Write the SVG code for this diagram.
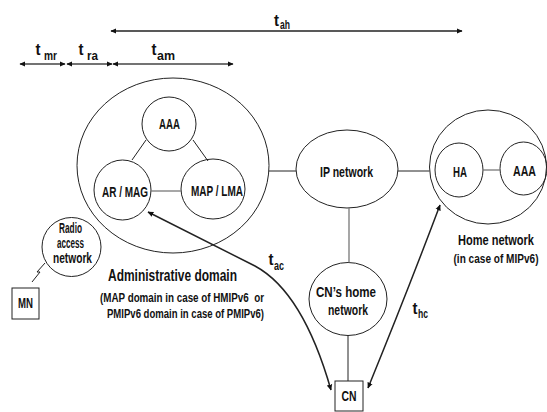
<svg xmlns="http://www.w3.org/2000/svg" width="547" height="412" viewBox="0 0 547 412">
<defs>
<style>
text{font-family:'Liberation Sans Narrow','Arial Narrow','Liberation Sans',Arial,sans-serif;font-weight:bold;fill:#111;text-anchor:middle}
.n{fill:none;stroke:#222;stroke-width:1}
.b{fill:#fff}
.ln{stroke:#222;stroke-width:1;fill:none}
.lg{stroke:#777;stroke-width:1.3;fill:none}
.ar{stroke:#222;stroke-width:1.5;fill:none;marker-start:url(#ah);marker-end:url(#ah)}
.ar2{stroke:#444;stroke-width:1.6;fill:none;marker-start:url(#ah);marker-end:url(#ah)}
.t{font-size:17px;text-anchor:start}
.s{font-size:12.5px;text-anchor:start}
.lab{font-size:14.5px}
</style>
<marker id="ah" viewBox="0 0 10 10" refX="9" refY="5" markerWidth="6" markerHeight="6" markerUnits="userSpaceOnUse" orient="auto-start-reverse">
<path d="M0,0.5 L10,5 L0,9.5 z" fill="#111"/>
</marker>
</defs>
<rect width="547" height="412" fill="#fff"/>

<g id="timers">
<line class="ar" x1="111" y1="31" x2="462" y2="31"/>
<line class="ar2" x1="20" y1="64" x2="65" y2="64"/>
<line class="ar2" x1="67" y1="64" x2="112" y2="64"/>
<line class="ar2" x1="113" y1="64" x2="233" y2="64"/>
<text class="t" x="274" y="26" textLength="5" lengthAdjust="spacingAndGlyphs">t</text><text class="s" x="280" y="29" textLength="10" lengthAdjust="spacingAndGlyphs">ah</text>
<text class="t" x="35.5" y="55" textLength="5" lengthAdjust="spacingAndGlyphs">t</text><text class="s" x="44" y="60" textLength="13" lengthAdjust="spacingAndGlyphs">mr</text>
<text class="t" x="78.5" y="55" textLength="5" lengthAdjust="spacingAndGlyphs">t</text><text class="s" x="87" y="60" textLength="11" lengthAdjust="spacingAndGlyphs">ra</text>
<text class="t" x="151.5" y="55" textLength="5" lengthAdjust="spacingAndGlyphs">t</text><text class="s" x="157" y="60" textLength="18" lengthAdjust="spacingAndGlyphs">am</text>
<text class="t" x="268.5" y="265" textLength="5" lengthAdjust="spacingAndGlyphs">t</text><text class="s" x="274" y="270" textLength="10" lengthAdjust="spacingAndGlyphs">ac</text>
<text class="t" x="412.5" y="314" textLength="5" lengthAdjust="spacingAndGlyphs">t</text><text class="s" x="418" y="318" textLength="10" lengthAdjust="spacingAndGlyphs">hc</text>
</g>

<g id="admin-domain">
<ellipse class="n" cx="173" cy="165.5" rx="96" ry="87.5"/>
<text x="172.5" y="281" font-size="16.5" textLength="129" lengthAdjust="spacingAndGlyphs">Administrative domain</text>
<text x="182" y="302" font-size="13.5" textLength="164" lengthAdjust="spacingAndGlyphs" xml:space="preserve">(MAP domain in case of HMIPv6  or</text>
<text x="185.5" y="318" font-size="13.5" textLength="157" lengthAdjust="spacingAndGlyphs">PMIPv6 domain in case of PMIPv6)</text>
</g>
<g id="aaa-admin">
<circle class="n" cx="169" cy="124" r="27"/>
<text class="lab" x="169.5" y="129" textLength="21" lengthAdjust="spacingAndGlyphs">AAA</text>
</g>
<g id="ar-mag">
<ellipse class="n" cx="122.5" cy="190" rx="28.5" ry="30"/>
<text class="lab" x="125" y="197" textLength="46" lengthAdjust="spacingAndGlyphs">AR / MAG</text>
</g>
<g id="map-lma">
<ellipse class="n" cx="213" cy="189" rx="32" ry="30"/>
<text class="lab" x="217" y="196" textLength="52" lengthAdjust="spacingAndGlyphs">MAP / LMA</text>
</g>
<g id="ip-network">
<ellipse class="n" cx="347" cy="169" rx="51" ry="39"/>
<text class="lab" x="346.5" y="177" textLength="53" lengthAdjust="spacingAndGlyphs">IP network</text>
</g>
<g id="home-network">
<ellipse class="n" cx="488" cy="167" rx="58.5" ry="57"/>
<text x="496" y="245" font-size="15.5" textLength="76" lengthAdjust="spacingAndGlyphs">Home network</text>
<text x="496" y="263" font-size="13.5" textLength="85" lengthAdjust="spacingAndGlyphs">(in case of MIPv6)</text>
</g>
<g id="ha">
<ellipse class="n" cx="459" cy="170" rx="24" ry="27"/>
<text class="lab" x="460" y="177" textLength="14" lengthAdjust="spacingAndGlyphs">HA</text>
</g>
<g id="aaa-home">
<ellipse class="n" cx="523.5" cy="168.5" rx="23.5" ry="26.5"/>
<text class="lab" x="524.5" y="176" textLength="23" lengthAdjust="spacingAndGlyphs">AAA</text>
</g>
<g id="cn-home">
<ellipse class="n" cx="348" cy="299" rx="39" ry="36.5"/>
<text class="lab" x="346" y="297" textLength="60" lengthAdjust="spacingAndGlyphs">CN’s home</text>
<text class="lab" x="348" y="315" textLength="40" lengthAdjust="spacingAndGlyphs">network</text>
</g>
<g id="radio-access">
<circle class="n" cx="71.5" cy="247" r="29.5"/>
<text class="lab" x="70.5" y="233" textLength="23" lengthAdjust="spacingAndGlyphs">Radio</text>
<text class="lab" x="70.5" y="248" textLength="27" lengthAdjust="spacingAndGlyphs">access</text>
<text class="lab" x="72.5" y="263" textLength="39" lengthAdjust="spacingAndGlyphs">network</text>
</g>
<g id="mn">
<rect class="n b" x="12" y="288" width="27" height="31" stroke="#555" stroke-width="1.5"/>
<text class="lab" x="25.5" y="308" textLength="15" lengthAdjust="spacingAndGlyphs">MN</text>
</g>
<g id="cn">
<rect class="n b" x="335" y="381" width="28" height="30" stroke="#333" stroke-width="1.3"/>
<text class="lab" x="349" y="401" textLength="15" lengthAdjust="spacingAndGlyphs">CN</text>
</g>

<g id="connectors">
<line class="ln" x1="269" y1="171" x2="296" y2="171"/>
<line class="ln" x1="398" y1="171" x2="429.5" y2="171"/>
<line class="lg" x1="349" y1="208" x2="349" y2="262.5"/>
<line class="ln" x1="348" y1="335.5" x2="348" y2="381"/>
<line class="ln" x1="132" y1="160" x2="146" y2="140"/>
<line class="ln" x1="193" y1="140" x2="208" y2="161"/>
<line class="lg" x1="151" y1="191" x2="181" y2="191"/>
<line class="lg" x1="483" y1="170" x2="500" y2="170"/>
<path class="ln" d="M45,263 L37,272 L40,272 L32,282"/>
<path class="ar" d="M148,212 L255,266 Q303,292 331,390"/>
<path class="ar" d="M440,205 Q408,290 368,388"/>
</g>
</svg>
